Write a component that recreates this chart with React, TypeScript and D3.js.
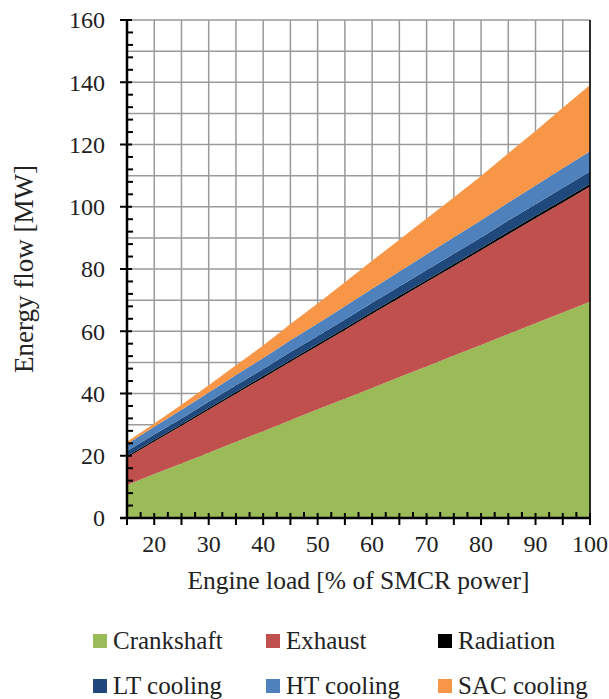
import React from "react";
import * as d3 from "d3";

const loads = [15, 20, 25, 30, 35, 40, 45, 50, 55, 60, 65, 70, 75, 80, 85, 90, 95, 100];
const crankshaft = [10.6, 14.1, 17.5, 21.0, 24.5, 27.9, 31.4, 34.9, 38.3, 41.8, 45.3, 48.7, 52.2, 55.6, 59.1, 62.6, 66.0, 69.5];
const exhaust = [8.8, 10.5, 12.1, 13.8, 15.4, 17.1, 18.8, 20.4, 22.1, 23.8, 25.4, 27.1, 28.7, 30.4, 32.1, 33.7, 35.4, 37.0];
const radiation = [0.5, 0.5, 0.5, 0.55, 0.55, 0.6, 0.6, 0.6, 0.65, 0.65, 0.7, 0.7, 0.7, 0.75, 0.75, 0.8, 0.8, 0.8];
const ltCooling = [1.6, 1.7, 1.9, 2.0, 2.2, 2.3, 2.5, 2.6, 2.7, 2.9, 3.0, 3.2, 3.3, 3.4, 3.6, 3.7, 3.9, 4.0];
const htCooling = [2.3, 2.5, 2.8, 3.0, 3.3, 3.5, 3.8, 4.0, 4.3, 4.5, 4.8, 5.0, 5.3, 5.5, 5.8, 6.0, 6.3, 6.5];
const sacCooling = [0.7, 1.1, 1.6, 2.3, 3.1, 4.0, 5.2, 6.4, 7.7, 9.0, 10.2, 11.5, 12.8, 14.2, 15.8, 17.5, 19.4, 21.3];

const seriesNames = ["Crankshaft", "Exhaust", "Radiation", "LT cooling", "HT cooling", "SAC cooling"];
const seriesColors = ["#9BBB59", "#C0504D", "#000000", "#1F497D", "#4F81BD", "#F79646"];
const seriesValues = [crankshaft, exhaust, radiation, ltCooling, htCooling, sacCooling];

const xTickLabels = [20, 30, 40, 50, 60, 70, 80, 90, 100];
const yTickLabels = [0, 20, 40, 60, 80, 100, 120, 140, 160];

const W = 609;
const H = 699;
const left = 127;
const right = 590;
const top = 20;
const bottom = 518;
const FONT = "'Liberation Serif', 'Times New Roman', serif";

export default function App() {
  const x = d3.scaleLinear().domain([15, 100]).range([left, right]);
  const y = d3.scaleLinear().domain([0, 160]).range([bottom, top]);

  const rows = loads.map((l, i) => {
    const r: any = { load: l };
    seriesNames.forEach((n, k) => (r[n] = seriesValues[k][i]));
    return r;
  });
  const stack = d3.stack().keys(seriesNames)(rows as any);
  const area = d3
    .area<any>()
    .x((d: any) => x(d.data.load))
    .y0((d: any) => y(d[0]))
    .y1((d: any) => y(d[1]));

  const vGrid = d3.range(20, 100.1, 5);
  const hGrid = d3.range(10, 160.1, 10);
  const xMajor = d3.range(15, 100.1, 5);
  const xMinor = d3.range(17.5, 100, 5);
  const yMinor = d3.range(0, 160.1, 4).filter((v) => v % 20 !== 0);

  const legendCols = [93, 266, 438];
  const legendRows = [641, 686];

  return (
    <svg width={W} height={H} style={{ position: "absolute", left: 0, top: 0 }} fontFamily={FONT}>
      <rect width={W} height={H} fill="#fff" />
      {vGrid.map((v) => (
        <line key={"vg" + v} x1={x(v)} x2={x(v)} y1={top} y2={bottom} stroke="#9a9a9a" strokeWidth={1.5} />
      ))}
      {hGrid.map((v) => (
        <line key={"hg" + v} x1={left} x2={right} y1={y(v)} y2={y(v)} stroke="#9a9a9a" strokeWidth={1.5} />
      ))}
      {stack.map((s, k) => (
        <path key={seriesNames[k]} d={area(s as any) || ""} fill={seriesColors[k]} />
      ))}
      <line x1={right} x2={right} y1={top} y2={bottom} stroke="#000" strokeWidth={1.5} />
      <line x1={left} x2={left} y1={top - 1} y2={bottom + 1} stroke="#000" strokeWidth={2.5} />
      {yTickLabels.map((v) => (
        <g key={"yt" + v}>
          <line x1={left - 7} x2={left + 5} y1={y(v)} y2={y(v)} stroke="#000" strokeWidth={2} />
          <text x={left - 22} y={y(v)} dy="0.35em" textAnchor="end" fontSize={24} fill="#222">
            {v}
          </text>
        </g>
      ))}
      {yMinor.map((v) => (
        <line key={"ym" + v} x1={left} x2={left + 6} y1={y(v)} y2={y(v)} stroke="#000" strokeWidth={2} />
      ))}
      <line x1={left - 7} x2={right + 1} y1={bottom} y2={bottom} stroke="#000" strokeWidth={2.5} />
      {xMajor.map((v) => (
        <line key={"xM" + v} x1={x(v)} x2={x(v)} y1={bottom - 5} y2={bottom + 7} stroke="#000" strokeWidth={2} />
      ))}
      {xMinor.map((v) => (
        <line key={"xm" + v} x1={x(v)} x2={x(v)} y1={bottom - 6} y2={bottom} stroke="#000" strokeWidth={2} />
      ))}
      {xTickLabels.map((v) => (
        <text key={"xl" + v} x={x(v)} y={552} textAnchor="middle" fontSize={24} fill="#222">
          {v}
        </text>
      ))}
      <text x={(left + right) / 2} y={589} textAnchor="middle" fontSize={25.5} fill="#222">
        Engine load [% of SMCR power]
      </text>
      <text
        transform={`translate(33, ${(top + bottom) / 2}) rotate(-90)`}
        textAnchor="middle"
        fontSize={27}
        fill="#222"
      >
        Energy flow [MW]
      </text>
      {seriesNames.map((n, k) => {
        const cx = legendCols[k % 3];
        const cy = legendRows[Math.floor(k / 3)];
        return (
          <g key={"lg" + n}>
            <rect x={cx} y={cy - 7} width={14} height={14} fill={seriesColors[k]} />
            <text x={cx + 20} y={cy} dy="0.33em" fontSize={25} fill="#222">
              {n}
            </text>
          </g>
        );
      })}
    </svg>
  );
}
